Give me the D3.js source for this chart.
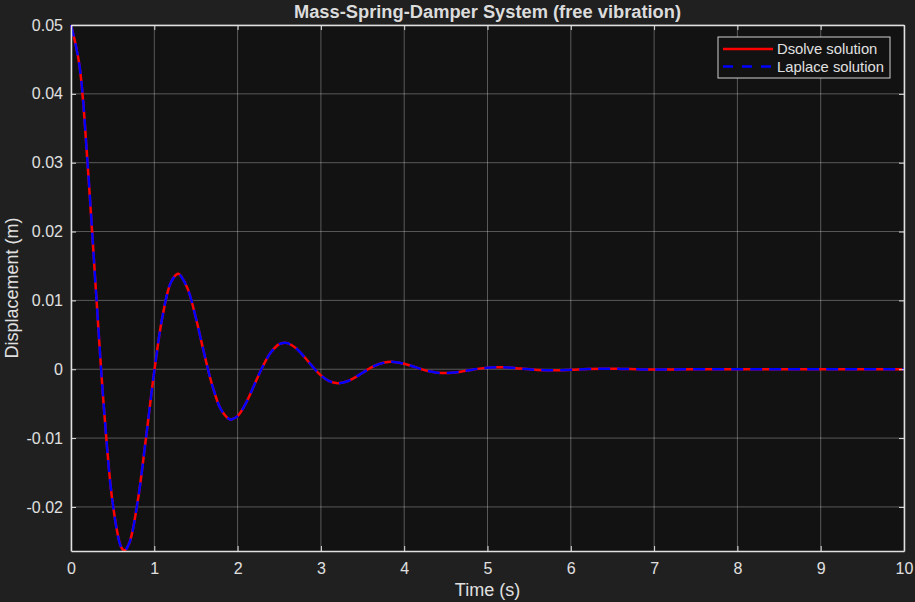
<!DOCTYPE html>
<html>
<head>
<meta charset="utf-8">
<script src="https://cdn.jsdelivr.net/npm/d3@7"></script>
<style>
  body { margin: 0; background: #202020; }
  svg { display: block; font-family: "Liberation Sans", Arial, sans-serif; }
</style>
</head>
<body>
<div id="chart"></div>
<script>
// values (time in s, displacement in m)
var time = [0, 0.1, 0.2, 0.3, 0.4, 0.5, 0.6, 0.641, 0.7, 0.8, 0.9, 1.0, 1.1, 1.2, 1.283, 1.3, 1.4, 1.5, 1.6, 1.7, 1.8, 1.9, 1.924,
  2.0, 2.1, 2.2, 2.3, 2.4, 2.5, 2.565, 2.6, 2.7, 2.8, 2.9, 3.0, 3.1, 3.2, 3.3, 3.4, 3.5, 3.6, 3.7, 3.8, 3.848, 3.9,
  4.0, 4.1, 4.2, 4.3, 4.4, 4.5, 4.6, 4.7, 4.8, 4.9, 5.0, 5.1, 5.2, 5.4, 5.6, 5.8, 6.0, 6.2, 6.4, 6.6, 6.8, 7.0, 7.2,
  7.5, 8.0, 8.5, 9.0, 9.5, 10.0]
var dsolve = [0.05, 0.04427, 0.02975, 0.01126, -0.00638, -0.01940, -0.02576, -0.02633, -0.02525, -0.01923, -0.01001, -0.00028,
  0.00777, 0.01264, 0.01387, 0.01381, 0.01171, 0.00740, 0.00222, -0.00251, -0.00583, -0.00725, -0.00730,
  -0.00681, -0.00493, -0.00230, 0.00036, 0.00246, 0.00364, 0.00385, 0.00379, 0.00307, 0.00181, 0.00037, -0.00089,
  -0.00173, -0.00202, -0.00182, -0.00125, -0.00051, 0.00022, 0.00076, 0.00104, 0.00107, 0.00103,
  0.00080, 0.00043, 0.00004, -0.00030, -0.00050, -0.00056, -0.00048, -0.00031, -0.00010, 0.00009, 0.00023, 0.00029,
  0.00028, 0.00010, -0.00010, -0.00015, -0.00008, 0.00003, 0.00008, 0.00005, -0.00001, -0.00004, -0.00003,
  0.00001, 0, 0, 0, 0, 0]
var laplace = dsolve.slice()   // both solutions lie on top of each other
var xTicks = [0, 1, 2, 3, 4, 5, 6, 7, 8, 9, 10]
var yTicks = [-0.02, -0.01, 0, 0.01, 0.02, 0.03, 0.04, 0.05]

var W = 915, H = 602
var margin = { top: 25, right: 11, bottom: 51, left: 71 }
var width = W - margin.left - margin.right,
  height = H - margin.top - margin.bottom
var fg = "#e0e0e0"

var svg = d3.select("#chart").append("svg")
  .attr("width", W)
  .attr("height", H)
svg.append("rect").attr("width", W).attr("height", H).attr("fill", "#202020")

var g = svg.append("g")
  .attr("transform", "translate(" + margin.left + "," + margin.top + ")")

var x = d3.scaleLinear().domain([0, 10]).range([0, width])
var y = d3.scaleLinear().domain([-0.0264, 0.05]).range([height, 0])

g.append("rect").attr("width", width).attr("height", height).attr("fill", "#121212")

// grid
g.append("g").selectAll("line").data(xTicks).enter().append("line")
  .attr("x1", d => x(d)).attr("x2", d => x(d))
  .attr("y1", 0).attr("y2", height)
  .attr("stroke", "#ffffff").attr("stroke-opacity", 0.3).attr("stroke-width", 1)
g.append("g").selectAll("line").data(yTicks).enter().append("line")
  .attr("x1", 0).attr("x2", width)
  .attr("y1", d => y(d)).attr("y2", d => y(d))
  .attr("stroke", "#ffffff").attr("stroke-opacity", 0.3).attr("stroke-width", 1)

// lines
var line = d3.line()
  .x(function (d, i) { return x(time[i]) })
  .y(function (d) { return y(d) })
  .curve(d3.curveCatmullRom)

var clip = g.append("clipPath").attr("id", "clip")
clip.append("rect").attr("x", -2).attr("y", -2).attr("width", width + 4).attr("height", height + 2)

g.append("path").datum(dsolve)
  .attr("clip-path", "url(#clip)")
  .attr("d", line).attr("fill", "none")
  .attr("stroke", "#ff0000").attr("stroke-width", 2.5)
g.append("path").datum(laplace)
  .attr("clip-path", "url(#clip)")
  .attr("d", line).attr("fill", "none")
  .attr("stroke", "#0000ff").attr("stroke-width", 2.5)
  .attr("stroke-dasharray", "12,7")

// axes (ticks inside, box on)
function styleAxis(sel) {
  sel.select(".domain").attr("stroke", fg).attr("stroke-width", 1.5)
  sel.selectAll(".tick line").attr("stroke", fg).attr("stroke-width", 1)
  sel.selectAll(".tick text").attr("fill", fg).attr("font-size", 16)
    .attr("font-family", "Liberation Sans, Arial, sans-serif")
}

g.append("g")
  .attr("transform", "translate(0," + height + ")")
  .call(d3.axisBottom(x).tickValues(xTicks).tickSize(-5).tickSizeOuter(0).tickPadding(12)
    .tickFormat(d3.format("d")))
  .call(styleAxis)
g.append("g")
  .call(d3.axisTop(x).tickValues(xTicks).tickSize(-5).tickSizeOuter(0).tickFormat(""))
  .call(styleAxis)
g.append("g")
  .call(d3.axisLeft(y).tickValues(yTicks).tickSize(-5).tickSizeOuter(0).tickPadding(8)
    .tickFormat(function (d) { return d === 0 ? "0" : d3.format(".2f")(d).replace("\u2212", "-") }))
  .call(styleAxis)
g.append("g")
  .attr("transform", "translate(" + width + ",0)")
  .call(d3.axisRight(y).tickValues(yTicks).tickSize(-5).tickSizeOuter(0).tickFormat(""))
  .call(styleAxis)

// labels
svg.append("text")
  .attr("x", margin.left + width / 2).attr("y", 18)
  .attr("text-anchor", "middle")
  .attr("font-size", 18.3).attr("font-weight", "bold")
  .attr("fill", "#dcdcdc")
  .text("Mass-Spring-Damper System (free vibration)")
svg.append("text")
  .attr("x", margin.left + width / 2).attr("y", 596)
  .attr("text-anchor", "middle")
  .attr("font-size", 18).attr("fill", fg)
  .text("Time (s)")
svg.append("text")
  .attr("transform", "translate(18," + (margin.top + height / 2) + ") rotate(-90)")
  .attr("text-anchor", "middle")
  .attr("font-size", 18).attr("fill", fg)
  .text("Displacement (m)")

// legend
var legendItems = [
  { name: "Dsolve solution", color: "#ff0000", dash: null },
  { name: "Laplace solution", color: "#0000ff", dash: "10,9" }
]
var lg = svg.append("g").attr("transform", "translate(718,37)")
lg.append("rect").attr("width", 172).attr("height", 41)
  .attr("fill", "#121212").attr("stroke", "#d0d0d0").attr("stroke-width", 1)
var li = lg.selectAll(".item").data(legendItems).enter().append("g")
  .attr("transform", function (d, i) { return "translate(0," + (12 + i * 17.5) + ")" })
li.append("line").attr("x1", 5).attr("x2", 55)
  .attr("stroke", d => d.color).attr("stroke-width", 2.5)
  .attr("stroke-dasharray", d => d.dash)
li.append("text").attr("x", 59).attr("y", 5)
  .attr("font-size", 14.8).attr("fill", fg)
  .text(d => d.name)
</script>
</body>
</html>
